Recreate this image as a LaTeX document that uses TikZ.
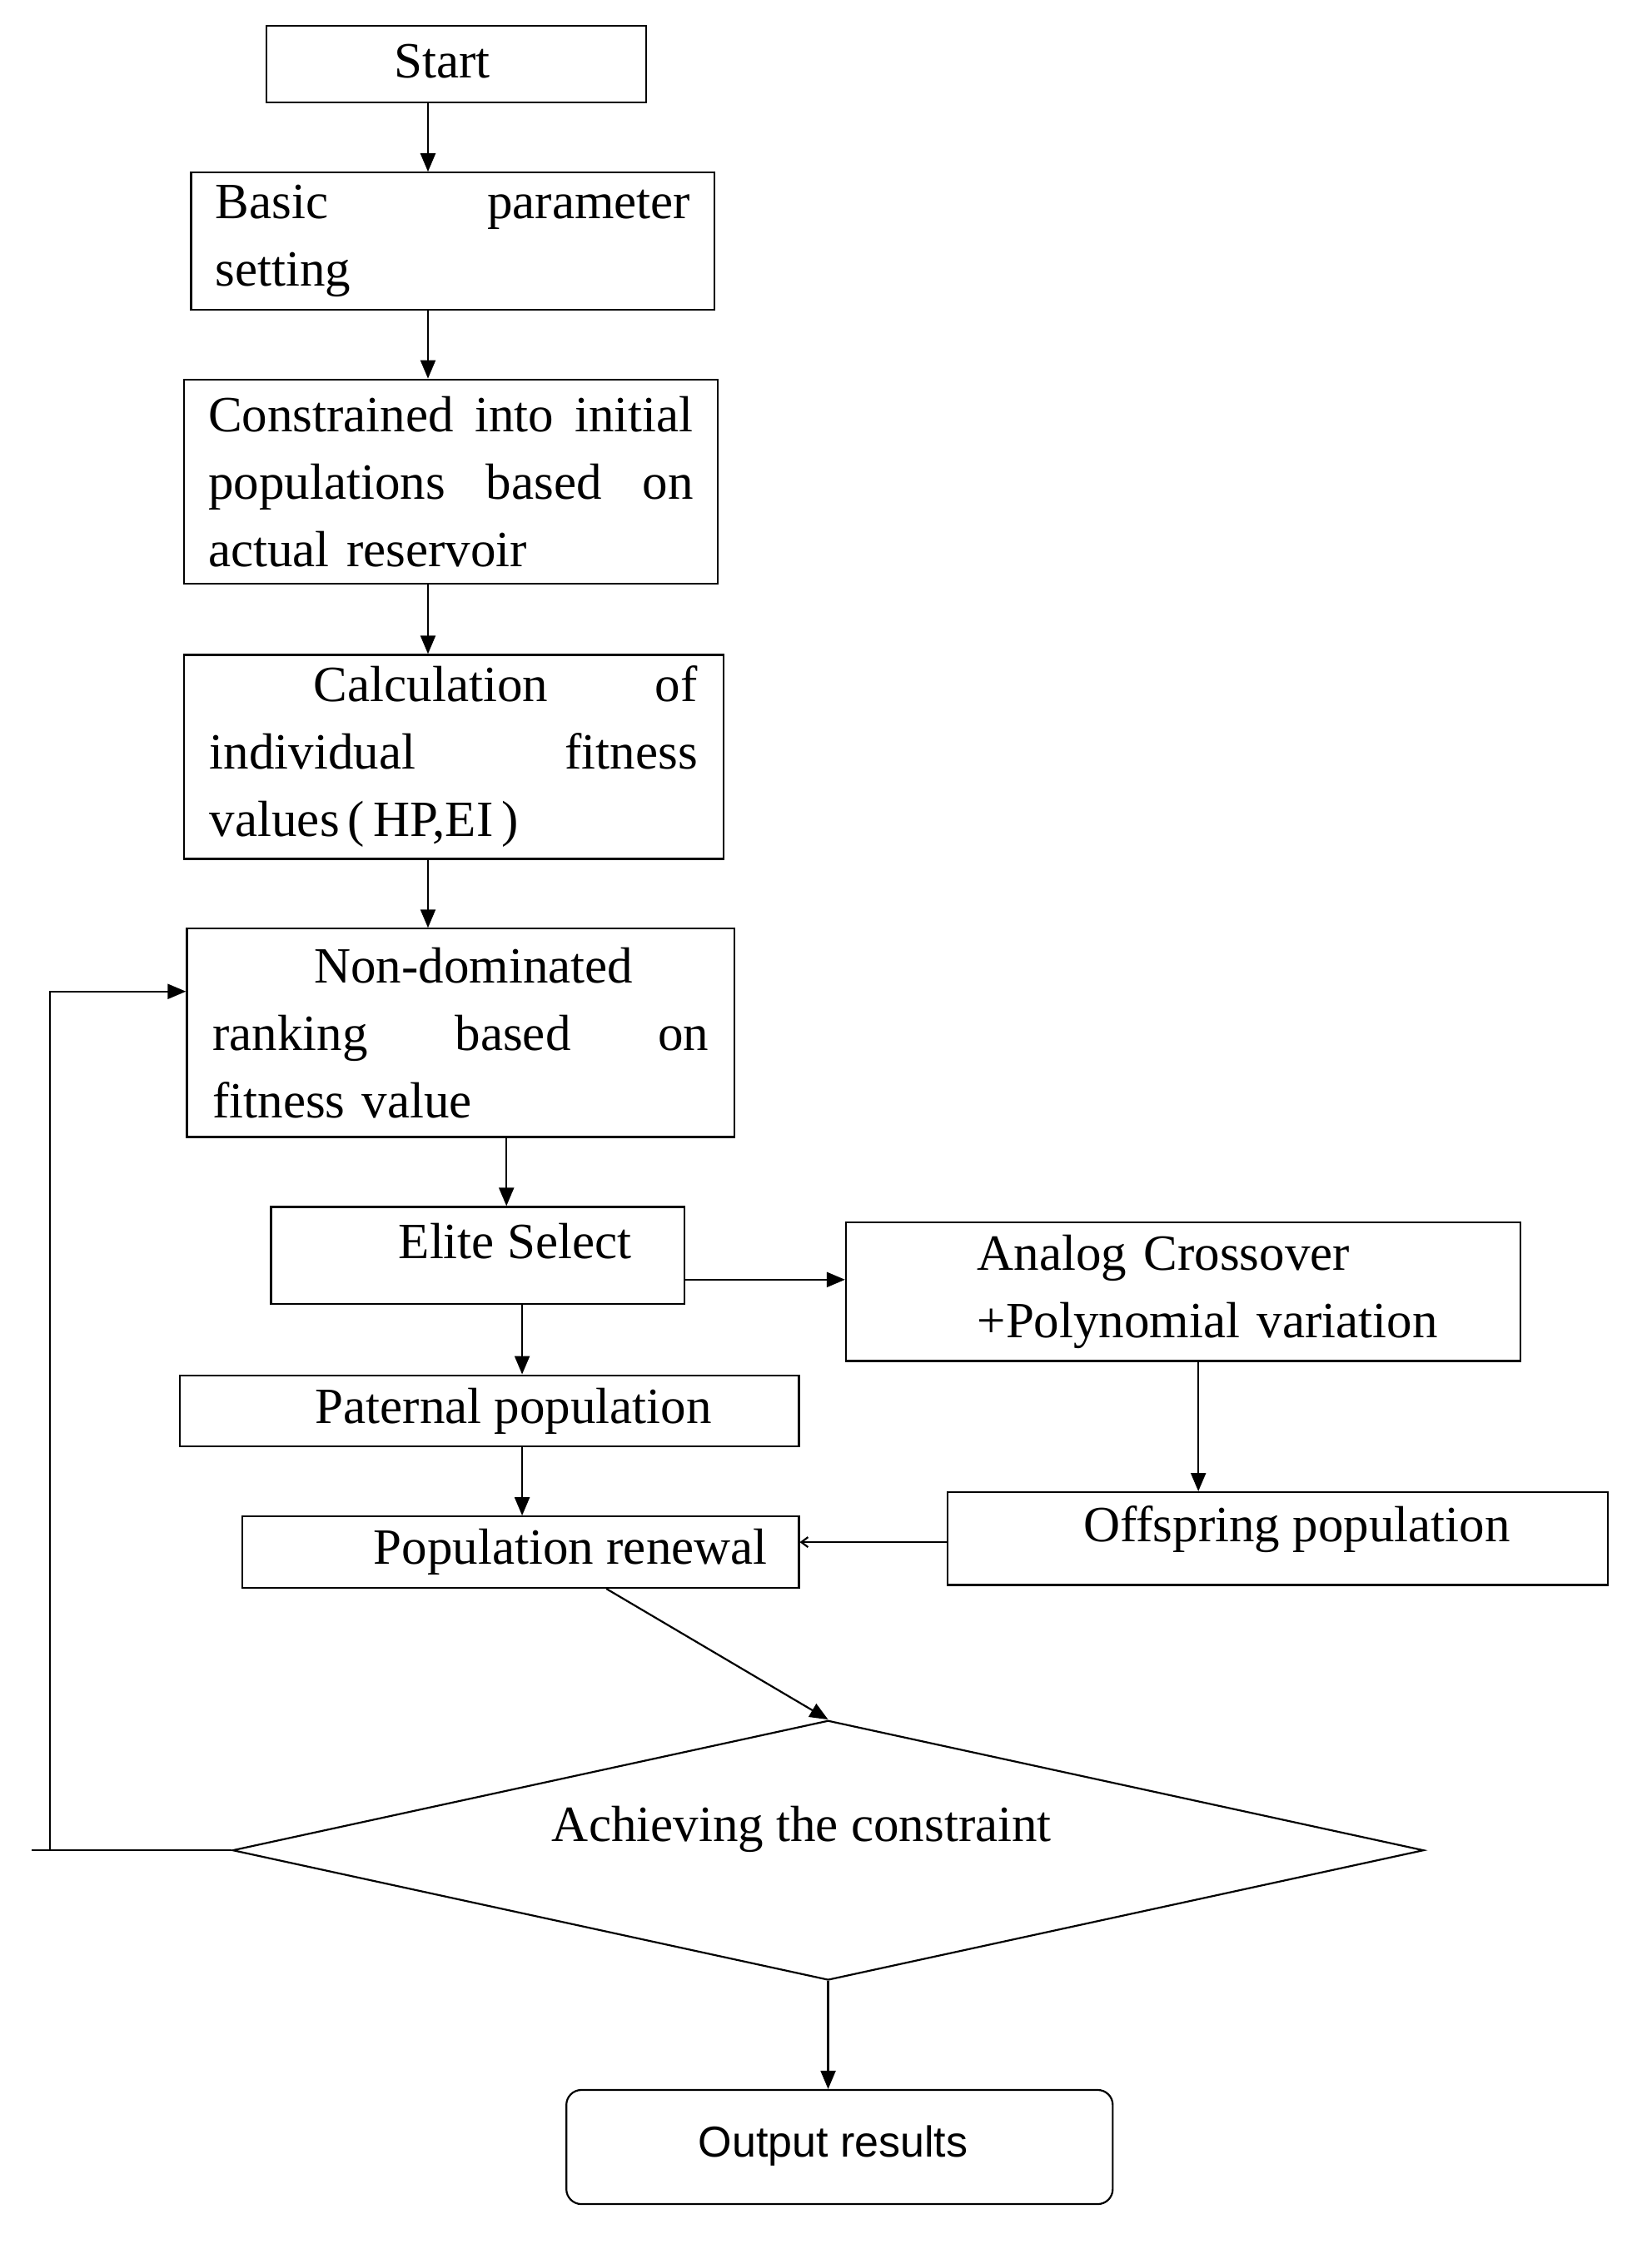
\documentclass[tikz,border=0pt]{standalone}
\usepackage{fontspec}
\setmainfont{Liberation Serif}
\newfontfamily\sansf{Liberation Sans}
\usetikzlibrary{shapes.geometric,arrows.meta}
\begin{document}
\begin{tikzpicture}[x=1.713pt,y=-1.713pt,
  box/.style={draw,line width=2.2pt,inner sep=0pt},
  txt/.style={inner sep=0pt,align=left,font=\fontsize{61}{81}\selectfont},
  arr/.style={line width=2.2pt,-{Triangle[length=22pt,width=18pt]}},
  ln/.style={line width=2.2pt}]
\useasboundingbox (0,0) rectangle (1158,1580);
\node[box,minimum width={266*1.713pt},minimum height={54*1.713pt}] (s) at (320,45) {};
\node[txt] at (310,43) {Start};
\node[box,minimum width={367*1.713pt},minimum height={96*1.713pt}] (b) at (317.5,169) {};
\node[txt,text width={333*1.713pt}] at (b) {Basic\hfill parameter\\setting};
\node[box,minimum width={374*1.713pt},minimum height={143*1.713pt}] (c) at (316,337.5) {};
\node[txt,text width={340*1.713pt}] at (c) {Constrained\hfill into\hfill initial\\populations\hfill based\hfill on\\actual reservoir};
\node[box,minimum width={378*1.713pt},minimum height={143*1.713pt}] (k) at (318,530.5) {};
\node[txt,text width={342*1.713pt}] at (k) {\hspace*{125pt}Calculation\hfill of\\individual\hfill fitness\\values\,(\,HP,EI\,)};
\node[box,minimum width={384*1.713pt},minimum height={146*1.713pt}] (n) at (323,724) {};
\node[txt,text width={348*1.713pt}] at (n) {\hspace*{122pt}Non-dominated\\ranking\hfill based\hfill on\\fitness value};
\node[box,minimum width={290*1.713pt},minimum height={68*1.713pt}] (e) at (335,880) {};
\node[txt] at (361,870) {Elite Select};
\node[box,minimum width={473*1.713pt},minimum height={97*1.713pt}] (a) at (829.5,905.5) {};
\node[txt,text width={360*1.713pt}] at (865,905.5) {Analog Crossover\\+Polynomial variation};
\node[box,minimum width={434*1.713pt},minimum height={50*1.713pt}] (p) at (343,989) {};
\node[txt] at (360,989) {Paternal population};
\node[box,minimum width={390*1.713pt},minimum height={50*1.713pt}] (r) at (365,1088) {};
\node[txt] at (400,1088) {Population renewal};
\node[box,minimum width={463*1.713pt},minimum height={65*1.713pt}] (o) at (895.5,1078.5) {};
\node[txt] at (909,1072) {Offspring population};
\node[draw,line width=2.2pt,diamond,aspect=4.59,inner sep=0pt,minimum width={835*1.713pt},minimum height={182*1.713pt}] (d) at (580.5,1297) {};
\node[txt] at (562,1282) {Achieving the constraint};
\node[box,rounded corners=18pt,minimum width={383*1.713pt},minimum height={80*1.713pt}] (out) at (588.5,1505) {};
\node[inner sep=0pt,font=\sansf\fontsize{52}{58}\selectfont] at (584,1504) {Output results};
\coordinate (l0) at (22,1297);
\coordinate (l1) at (35,1297);
\coordinate (l2) at (35,695);
\draw[arr] (s.south -| 300,0) -- (b.north -| 300,0);
\draw[arr] (b.south -| 300,0) -- (c.north -| 300,0);
\draw[arr] (c.south -| 300,0) -- (k.north -| 300,0);
\draw[arr] (k.south -| 300,0) -- (n.north -| 300,0);
\draw[arr] (n.south -| 355,0) -- (e.north -| 355,0);
\draw[arr] (e.south -| 366,0) -- (p.north -| 366,0);
\draw[arr] (p.south -| 366,0) -- (r.north -| 366,0);
\draw[arr] (e.east |- 0,897) -- (a.west |- 0,897);
\draw[arr] (a.south -| 840,0) -- (o.north -| 840,0);
\draw[ln,-{Straight Barb[length=8pt,width=12pt]}] (o.west |- 0,1081) -- (r.east |- 0,1081);
\draw[arr] (r.south -| 425,0) -- (d.north);
\draw[arr] (d.south) -- (out.north -| d.south);
\draw[ln] (d.west) -- (l0);
\draw[arr] (l1) -- (l2) -- (n.west |- l2);
\end{tikzpicture}
\end{document}
